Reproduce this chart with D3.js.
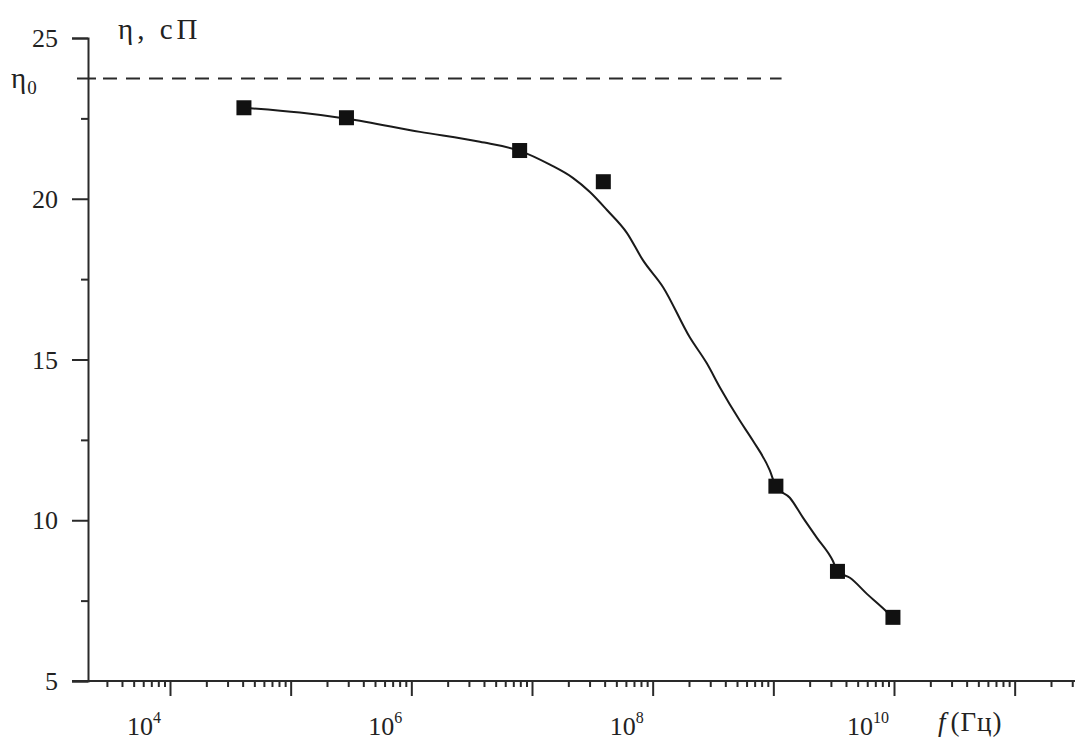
<!DOCTYPE html>
<html>
<head>
<meta charset="utf-8">
<script src="https://cdn.jsdelivr.net/npm/d3@7"></script>
<style>
  html, body { margin: 0; padding: 0; background: #fff; }
  svg { display: block; }
  text { font-family: "Liberation Serif", "Times New Roman", "DejaVu Serif", serif; fill: #222; }
</style>
</head>
<body>
<svg id="chart" width="1075" height="740"></svg>
<script>
// ---- data ----
const freqPoints = [4.1e4, 2.9e5, 7.9e6, 3.9e7, 1.05e9, 3.4e9, 9.8e9];
const etaPoints  = [22.83, 22.52, 21.50, 20.53, 11.06, 8.41, 6.98];

const curveFreq = [4.10e4, 1.19e5, 2.92e5, 1.18e6, 3.70e6, 7.94e6, 1.41e7, 2.18e7, 3.02e7,
                   4.18e7, 6.11e7, 8.30e7, 1.22e8, 2.03e8, 2.81e8, 3.61e8, 5.27e8, 6.76e8,
                   9.35e8, 1.05e9, 1.37e9, 1.76e9, 2.29e9, 3.11e9, 3.42e9, 4.31e9, 5.96e9,
                   8.07e9, 9.77e9];
const curveEta  = [22.83, 22.68, 22.49, 22.08, 21.77, 21.49, 21.06, 20.65, 20.21,
                   19.65, 18.94, 18.09, 17.25, 15.69, 14.88, 14.13, 13.10, 12.48,
                   11.55, 11.05, 10.70, 10.08, 9.46, 8.74, 8.40, 8.21, 7.71,
                   7.27, 6.96];

const eta0 = 23.74;
const eta0End = 1.17e9;           // dashed line ends here

const yMajorTicks = [5, 10, 15, 20, 25];
const yMinorTicks = [7.5, 12.5, 17.5, 22.5];
const xLabelTicks = [1e4, 1e6, 1e8, 1e10];
const xLabelExp   = ["4", "6", "8", "10"];

const yTitle = "η, сП";
const xTitleItalic = "f";
const xTitleRest = "(Гц)";

// ---- scales ----
const svg = d3.select("#chart");
const x = d3.scaleLog().domain([1e4, 1e10]).range([170, 894]);
const y = d3.scaleLinear().domain([5, 25]).range([681, 38]);
const xLeft = 86, xRight = 1075, axisX = 88;

const ink = "#2a2a2a";

// ---- x axis ----
const xFull = x.copy().domain([x.invert(xLeft), x.invert(xRight)]).range([xLeft, xRight]);
const xTickVals = xFull.ticks();
const gx = svg.append("g").attr("transform", `translate(0,${y(5)})`)
  .call(d3.axisBottom(x).tickValues(xTickVals).tickFormat("").tickSizeOuter(0).tickSize(6));
gx.select(".domain").remove();
gx.selectAll(".tick line")
  .attr("stroke", ink).attr("stroke-width", 2)
  .attr("y2", d => Math.abs(Math.log10(d) - Math.round(Math.log10(d))) < 1e-9 ? 15 : 6);
svg.append("line").attr("x1", xLeft - 14).attr("x2", xRight)
  .attr("y1", y(5)).attr("y2", y(5)).attr("stroke", ink).attr("stroke-width", 2);

// x tick labels
const xl = svg.append("g").selectAll("text").data(xLabelTicks).join("text")
  .attr("x", d => x(d) - 26).attr("y", 735)
  .attr("text-anchor", "middle").attr("font-size", 26);
xl.append("tspan").text("10");
xl.append("tspan").attr("font-size", 16).attr("dy", -12).text((d, i) => xLabelExp[i]);

// x title
const xt = svg.append("text").attr("x", 938).attr("y", 731).attr("font-size", 27);
xt.append("tspan").attr("font-style", "italic").text(xTitleItalic);
xt.append("tspan").attr("dx", 5).attr("letter-spacing", 1).text(xTitleRest);

// ---- y axis ----
const gy = svg.append("g").attr("transform", `translate(${axisX},0)`)
  .call(d3.axisLeft(y).tickValues(yMajorTicks.concat(yMinorTicks)).tickFormat("").tickSizeOuter(0).tickSize(16));
gy.select(".domain").attr("stroke", ink).attr("stroke-width", 2);
gy.selectAll(".tick line").attr("stroke", ink).attr("stroke-width", 2)
  .attr("x2", d => yMajorTicks.includes(d) ? -16 : -7);

svg.append("g").selectAll("text").data(yMajorTicks).join("text")
  .attr("x", 58).attr("y", d => y(d) + 9)
  .attr("text-anchor", "end").attr("font-size", 26)
  .text(d => d);

// y title
svg.append("text").attr("x", 118).attr("y", 39).attr("font-size", 29)
  .attr("letter-spacing", 4).text(yTitle);

// eta0 label
const e0 = svg.append("text").attr("x", 11).attr("y", 88).attr("font-size", 29);
e0.append("tspan").text("η");
e0.append("tspan").attr("font-size", 19).attr("dy", 6).attr("dx", 1).text("0");

// eta0 dashed line
svg.append("line").attr("x1", 77).attr("x2", 96).attr("y1", y(eta0)).attr("y2", y(eta0))
  .attr("stroke", ink).attr("stroke-width", 2);
svg.append("line").attr("x1", 103).attr("x2", x(eta0End)).attr("y1", y(eta0)).attr("y2", y(eta0))
  .attr("stroke", ink).attr("stroke-width", 2).attr("stroke-dasharray", "14,9");

// ---- fitted curve ----
const curveData = curveFreq.map((f, i) => [f, curveEta[i]]);
svg.append("path").datum(curveData)
  .attr("fill", "none").attr("stroke", "#1a1a1a").attr("stroke-width", 2)
  .attr("d", d3.line().x(d => x(d[0])).y(d => y(d[1])).curve(d3.curveMonotoneX));

// ---- data points ----
const s = 15;
svg.append("g").selectAll("rect").data(freqPoints.map((f, i) => [f, etaPoints[i]])).join("rect")
  .attr("x", d => x(d[0]) - s / 2).attr("y", d => y(d[1]) - s / 2)
  .attr("width", s).attr("height", s).attr("fill", "#111");
</script>
</body>
</html>
